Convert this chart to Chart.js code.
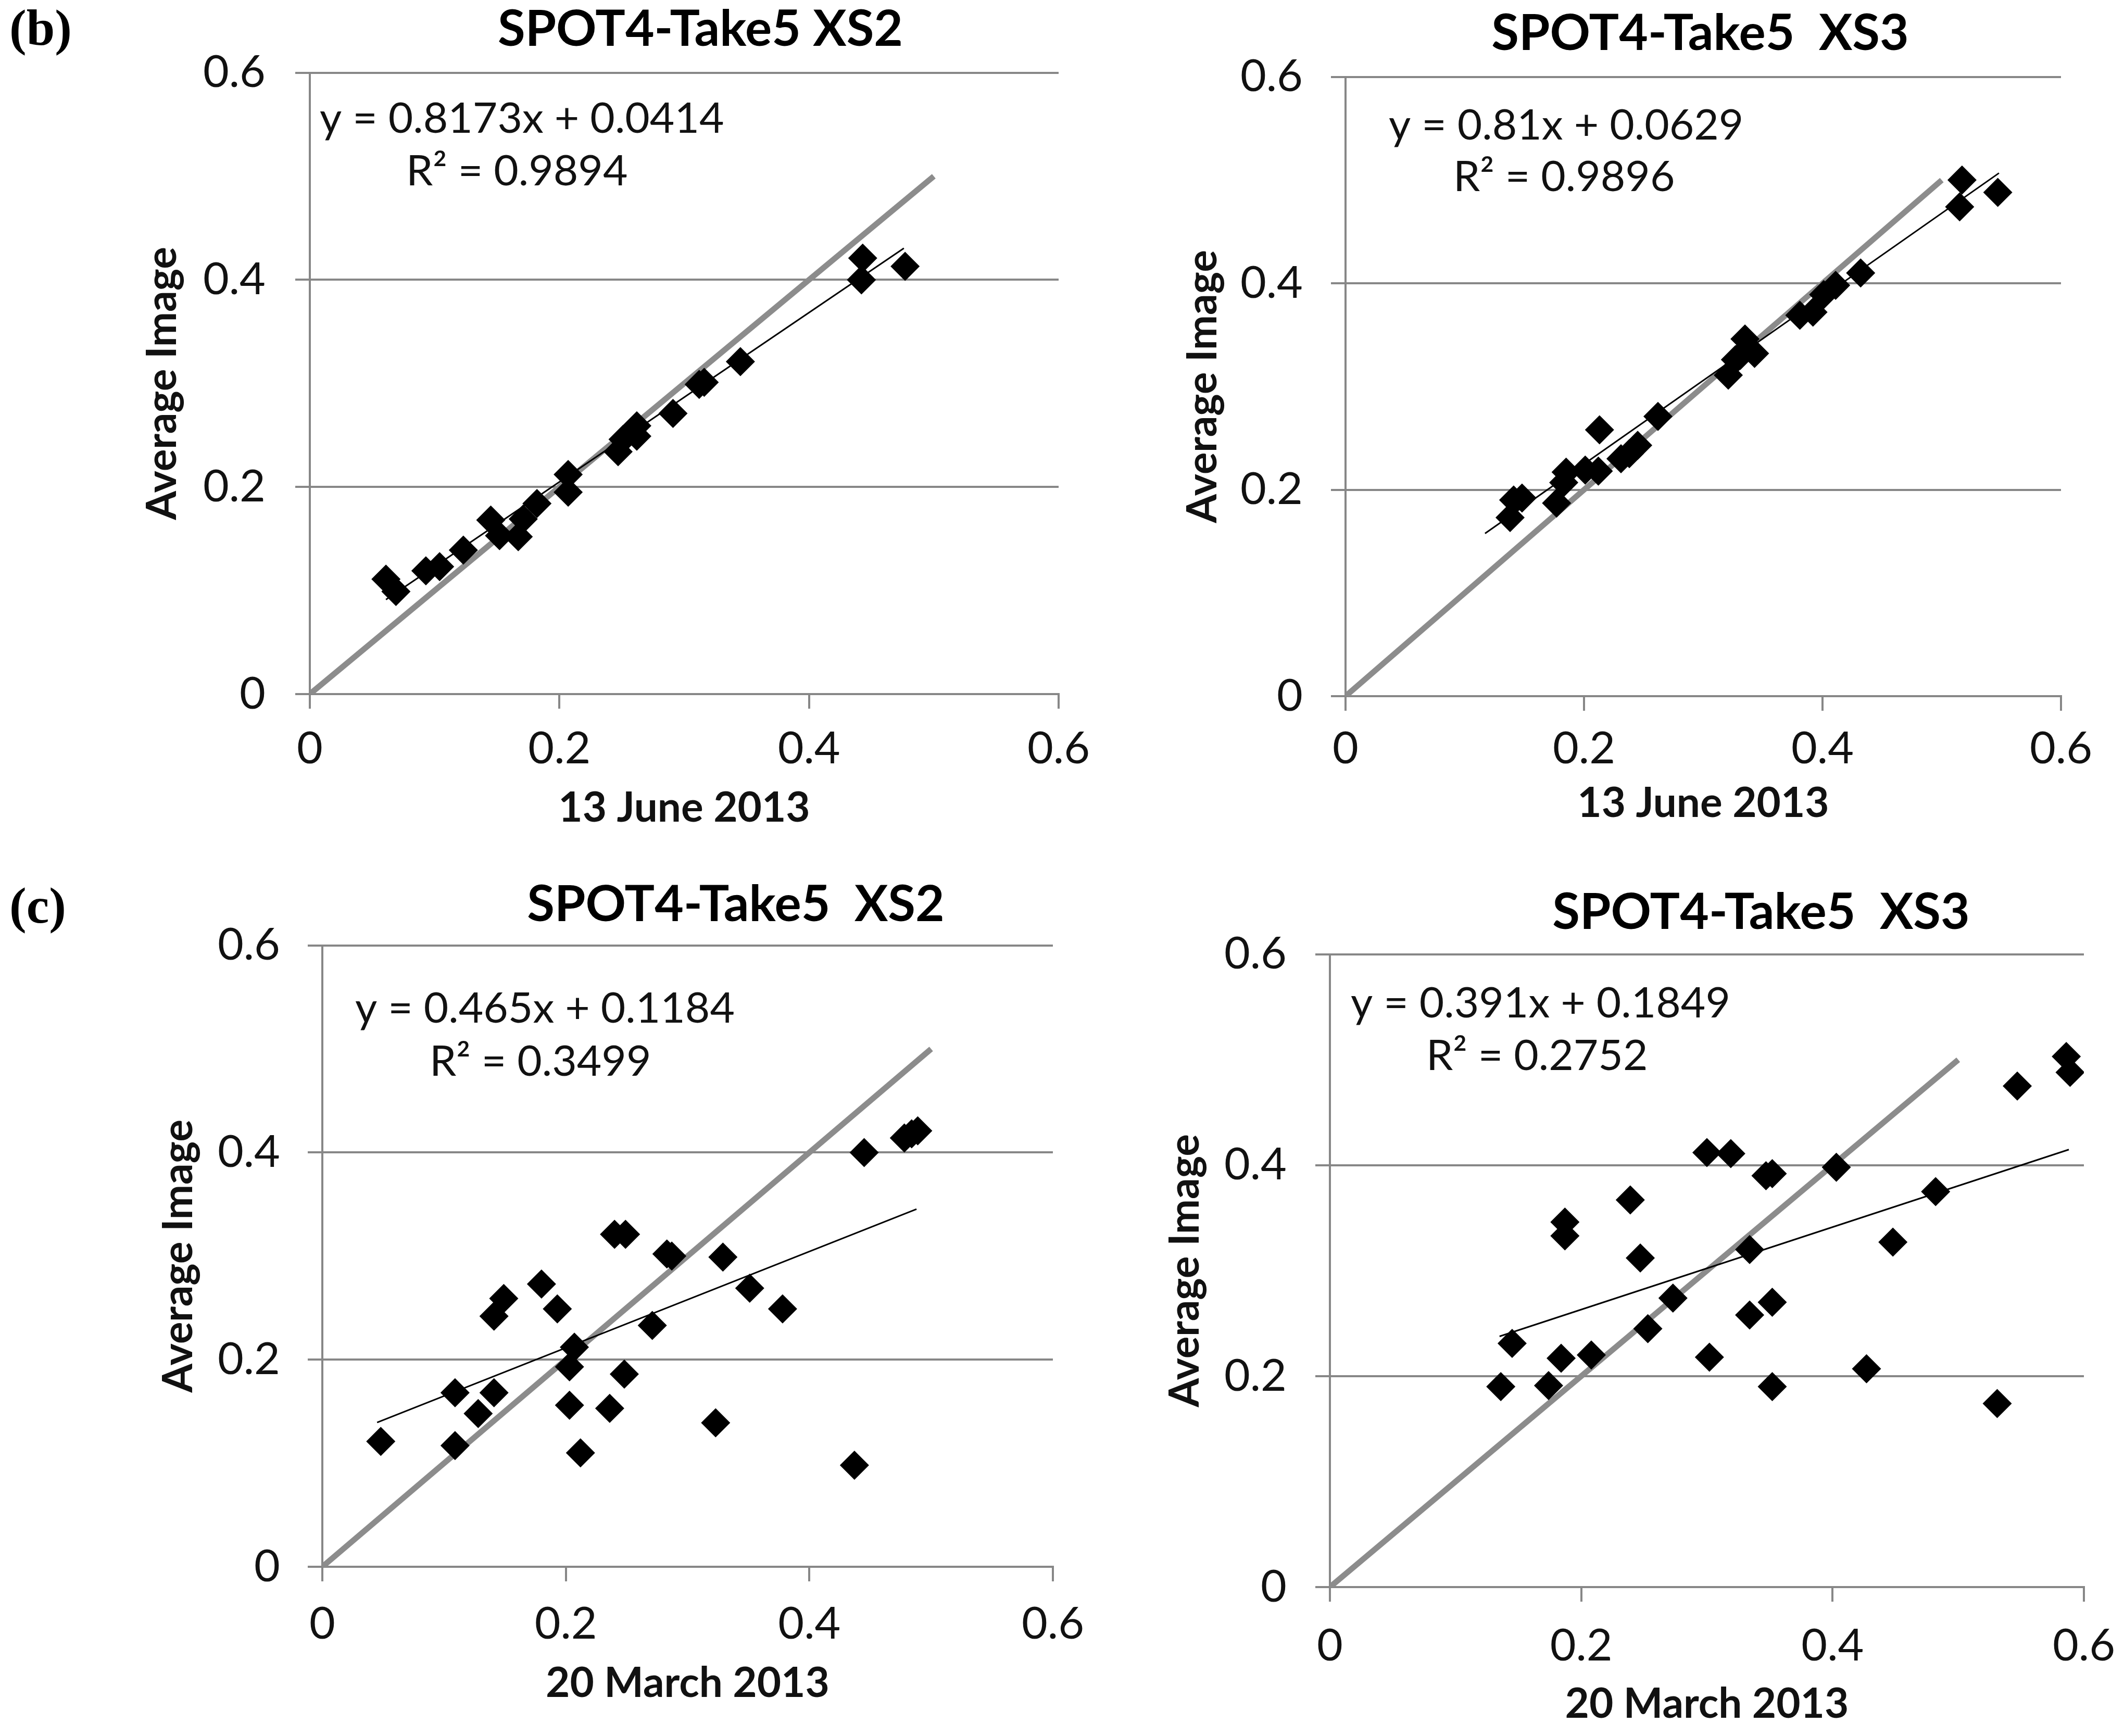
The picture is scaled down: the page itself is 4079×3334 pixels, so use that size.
<!DOCTYPE html>
<html><head><meta charset="utf-8">
<script src="https://cdn.jsdelivr.net/npm/chart.js@4.4.1/dist/chart.umd.min.js"></script>
<style>
html,body{margin:0;padding:0;background:#fff;width:4079px;height:3334px;overflow:hidden;position:relative}
canvas{position:absolute}
.lab{position:absolute;font-family:"Liberation Serif","Times New Roman",serif;font-weight:bold;font-size:98px;color:#000;line-height:98px}
</style></head><body>
<div class="lab" style="left:18px;top:4px">(b)</div>
<div class="lab" style="left:18px;top:1690px">(c)</div>
<canvas id="c0"></canvas><canvas id="c1"></canvas><canvas id="c2"></canvas><canvas id="c3"></canvas>
<script>
// ---------- data ----------
const tickValues = [0, 0.2, 0.4, 0.6];
const tickLabels = ['0', '0.2', '0.4', '0.6'];
const panelTitles = ['SPOT4-Take5 XS2', 'SPOT4-Take5  XS3', 'SPOT4-Take5  XS2', 'SPOT4-Take5  XS3'];
const xAxisTitles = ['13 June 2013', '13 June 2013', '20 March 2013', '20 March 2013'];
const yAxisTitle = 'Average Image';
const equationTexts = ['y = 0.8173x + 0.0414', 'y = 0.81x + 0.0629', 'y = 0.465x + 0.1184', 'y = 0.391x + 0.1849'];
const r2Texts = ['R\u00B2 = 0.9894', 'R\u00B2 = 0.9896', 'R\u00B2 = 0.3499', 'R\u00B2 = 0.2752'];
const slopes = [0.8173, 0.81, 0.465, 0.391];
const intercepts = [0.0414, 0.0629, 0.1184, 0.1849];
const trendStartX = [0.061, 0.117, 0.045, 0.135];
const trendEndX = [0.476, 0.548, 0.488, 0.588];
const oneToOneX = [0, 0.5];
const oneToOneY = [0, 0.5];

const juneXS2_x = [0.061,0.069,0.093,0.104,0.123,0.145,0.152,0.167,0.171,0.182,0.207,0.207,0.247,0.251,0.262,0.262,0.291,0.312,0.316,0.345,0.442,0.443,0.477];
const juneXS2_y = [0.111,0.099,0.119,0.123,0.139,0.168,0.153,0.152,0.169,0.184,0.212,0.195,0.234,0.246,0.259,0.249,0.271,0.299,0.301,0.321,0.400,0.421,0.413];

const juneXS3_x = [0.138,0.141,0.148,0.177,0.183,0.185,0.201,0.212,0.213,0.231,0.238,0.245,0.262,0.321,0.327,0.331,0.335,0.343,0.381,0.392,0.401,0.411,0.432,0.517,0.515,0.547];
const juneXS3_y = [0.173,0.190,0.192,0.187,0.207,0.217,0.219,0.218,0.258,0.230,0.235,0.243,0.271,0.311,0.326,0.330,0.346,0.332,0.369,0.372,0.389,0.398,0.410,0.500,0.474,0.488];

const marchXS2_x = [0.048,0.109,0.109,0.128,0.141,0.141,0.149,0.180,0.193,0.203,0.207,0.203,0.212,0.236,0.248,0.240,0.249,0.271,0.283,0.287,0.323,0.329,0.351,0.378,0.437,0.445,0.478,0.484,0.489];
const marchXS2_y = [0.121,0.168,0.117,0.148,0.168,0.242,0.259,0.273,0.249,0.193,0.212,0.156,0.110,0.153,0.186,0.321,0.321,0.233,0.302,0.300,0.139,0.299,0.269,0.249,0.098,0.400,0.414,0.418,0.421];

const marchXS3_x = [0.136,0.145,0.174,0.184,0.187,0.187,0.208,0.239,0.247,0.253,0.273,0.300,0.302,0.319,0.334,0.334,0.347,0.352,0.352,0.352,0.403,0.427,0.448,0.482,0.531,0.547,0.586,0.589];
const marchXS3_y = [0.190,0.231,0.191,0.217,0.346,0.333,0.220,0.367,0.312,0.245,0.274,0.412,0.218,0.411,0.320,0.258,0.390,0.392,0.270,0.190,0.398,0.207,0.327,0.375,0.174,0.475,0.503,0.488];

const seriesX = [juneXS2_x, juneXS3_x, marchXS2_x, marchXS3_x];
const seriesY = [juneXS2_y, juneXS3_y, marchXS2_y, marchXS3_y];

// ---------- layout (pixels) ----------
const geo = [
 {L:595, R:2033, T:140, B:1333, titleX:1345, titleY:57,   yTitleX:312,  xTitleY:1552, xTickY:1438, yTickRight:510,  eq:[[19,89],[185,190]]},
 {L:2584,R:3958, T:148, B:1337, titleX:3265, titleY:65,   yTitleX:2310, xTitleY:1543, xTickY:1438, yTickRight:2502, eq:[[83,94],[207,193]]},
 {L:619, R:2022, T:1816,B:3009, titleX:1413, titleY:1738, yTitleX:343,  xTitleY:3233, xTickY:3119, yTickRight:538,  eq:[[63,122],[206,224]]},
 {L:2554,R:4002, T:1833,B:3048, titleX:3382, titleY:1753, yTitleX:2276, xTitleY:3273, xTickY:3161, yTickRight:2471, eq:[[40,95],[185,196]]}
];
const FONT = 'Lato';
const fTitle = 96, fAxis = 80, fTick = 86, fEq = 82;
const gridColor = '#878787', gridW = 4, tickLen = 28;

const eqPlugin = {
  id: 'eqText',
  afterDatasetsDraw(chart, args, opts) {
    const ctx = chart.ctx, a = chart.chartArea;
    ctx.save();
    ctx.font = fEq + 'px ' + FONT;
    ctx.fillStyle = '#111';
    ctx.textAlign = 'left';
    ctx.textBaseline = 'middle';
    opts.lines.forEach(l => ctx.fillText(l.text, a.left + l.dx, a.top + l.dy));
    ctx.restore();
  }
};

function makeChart(i) {
  const g = geo[i];
  const lhT = fTitle * 1.2, lhA = fAxis * 1.2, lhK = fTick * 1.2;
  const cTop = g.titleY - lhT / 2;
  const cLeft = g.yTitleX - lhA / 2;
  const cBottom = g.xTitleY + lhA / 2;
  const cRight = 2 * g.titleX - cLeft;
  const W = Math.round(cRight - cLeft), H = Math.round(cBottom - cTop);
  const yW = g.L - cLeft, xH = cBottom - g.B, rW = cRight - g.R;
  const titlePadB = g.T - cTop - lhT;
  const padY = g.L - tickLen - g.yTickRight;
  const padX = g.xTickY - g.B - tickLen - lhK / 2;
  const cv = document.getElementById('c' + i);
  cv.width = W; cv.height = H;
  cv.style.left = cLeft + 'px'; cv.style.top = cTop + 'px';
  cv.style.width = W + 'px'; cv.style.height = H + 'px';

  const pts = seriesX[i].map((x, k) => ({x: x, y: seriesY[i][k]}));
  const trend = [trendStartX[i], trendEndX[i]].map(x => ({x: x, y: slopes[i] * x + intercepts[i]}));
  const ident = oneToOneX.map((x, k) => ({x: x, y: oneToOneY[k]}));
  const setTicks = s => { s.ticks = tickValues.map(v => ({value: v})); };
  const fmt = (v, idx) => tickLabels[idx];

  new Chart(cv, {
    type: 'scatter',
    data: {datasets: [
      {data: pts, pointStyle: 'rectRot', pointRadius: 28, backgroundColor: '#000', borderWidth: 0, showLine: false},
      {data: trend, showLine: true, borderColor: '#000', borderWidth: 3, pointRadius: 0},
      {data: ident, showLine: true, borderColor: '#8c8c8c', borderWidth: 11, pointRadius: 0}
    ]},
    options: {
      responsive: false, animation: false, devicePixelRatio: 1, events: [],
      layout: {padding: 0},
      plugins: {
        legend: {display: false}, tooltip: {enabled: false},
        title: {display: true, text: panelTitles[i], color: '#000',
          font: {family: FONT, size: fTitle, weight: 'bold', lineHeight: 1.2},
          padding: {top: 0, bottom: titlePadB}},
        eqText: {lines: [
          {text: equationTexts[i], dx: g.eq[0][0], dy: g.eq[0][1]},
          {text: r2Texts[i], dx: g.eq[1][0], dy: g.eq[1][1]}
        ]}
      },
      scales: {
        x: {type: 'linear', position: 'bottom', min: 0, max: 0.6,
          afterBuildTicks: setTicks, afterFit: s => { s.height = xH; },
          ticks: {callback: fmt, color: '#111', padding: padX, maxRotation: 0,
            font: {family: FONT, size: fTick, lineHeight: 1.2}},
          grid: {drawOnChartArea: false, drawTicks: true, tickLength: tickLen, tickColor: gridColor, tickWidth: gridW, color: gridColor, lineWidth: gridW},
          border: {display: true, color: gridColor, width: gridW},
          title: {display: true, text: xAxisTitles[i], color: '#111', padding: 0,
            font: {family: FONT, size: fAxis, weight: 'bold', lineHeight: 1.2}}
        },
        y: {type: 'linear', position: 'left', min: 0, max: 0.6,
          afterBuildTicks: setTicks, afterFit: s => { s.width = yW; },
          ticks: {callback: fmt, color: '#111', padding: padY,
            font: {family: FONT, size: fTick, lineHeight: 1.2}},
          grid: {drawOnChartArea: true, drawTicks: true, tickLength: tickLen, tickColor: gridColor, tickWidth: gridW, color: gridColor, lineWidth: gridW},
          border: {display: true, color: gridColor, width: gridW},
          title: {display: true, text: yAxisTitle, color: '#111', padding: 0,
            font: {family: FONT, size: fAxis, weight: 'bold', lineHeight: 1.2}}
        },
        yR: {type: 'linear', position: 'right', display: true,
          afterFit: s => { s.width = rW; },
          ticks: {display: false}, grid: {display: false}, border: {display: false}, title: {display: false}
        }
      }
    },
    plugins: [eqPlugin]
  });
}
[0, 1, 2, 3].forEach(makeChart);
</script>
</body></html>
